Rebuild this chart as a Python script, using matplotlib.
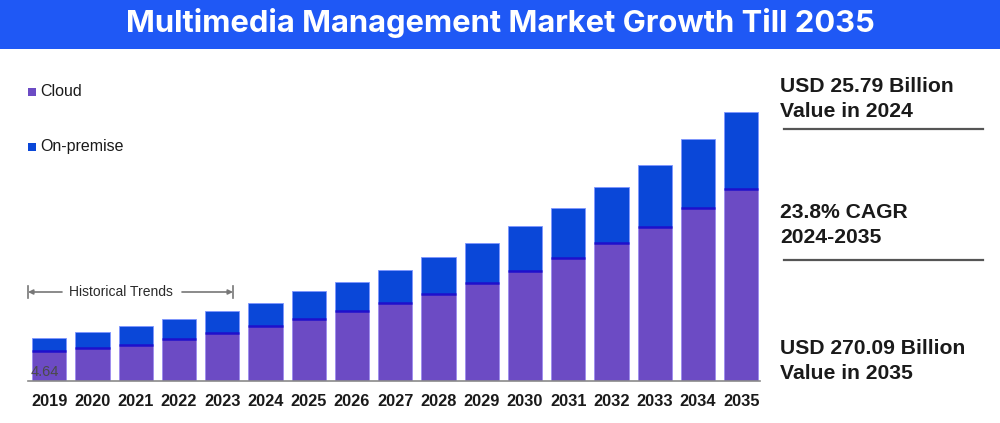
import matplotlib
matplotlib.use("Agg")
import matplotlib.pyplot as plt
from matplotlib.patches import Rectangle
import numpy as np

years = ["2019", "2020", "2021", "2022", "2023", "2024", "2025", "2026", "2027",
         "2028", "2029", "2030", "2031", "2032", "2033", "2034", "2035"]
cloud = [30, 33, 36, 42, 48, 55, 62, 70, 78, 87, 98, 110, 123, 138, 154, 173, 192]
total = [43, 49, 55, 62, 70, 78, 90, 99, 111, 124, 138, 155, 173, 194, 216, 242, 269]
on_premise = [t - c for t, c in zip(total, cloud)]
series_names = ["Cloud", "On-premise"]
first_label = "4.64"
title = "Multimedia Management Market Growth Till 2035"
side_texts = [("USD 25.79 Billion", "Value in 2024"),
              ("23.8% CAGR", "2024-2035"),
              ("USD 270.09 Billion", "Value in 2035")]
hist_label = "Historical Trends"

C_CLOUD = "#6c4bc4"
C_ONPREM = "#0a47d8"
C_SPLIT = "#1f10cc"
C_TEXT = "#1a1a1a"

W, H = 1000, 423
fig = plt.figure(figsize=(10, 4.23), dpi=100)
fig.patch.set_facecolor("white")

def fx(px):
    return px / W

def fy(py):
    return 1 - py / H

# title banner
fig.patches.append(Rectangle((0, fy(49)), 1, 49 / H, transform=fig.transFigure,
                             facecolor="#1f58f5", edgecolor="none", zorder=0))
fig.text(0.5, fy(23), title, ha="center", va="center", color="white",
         fontsize=22.3, fontweight="bold", family=["Inter", "DejaVu Sans"])

# axes
ax_top_px = 81
ax = fig.add_axes([fx(28), fy(381), fx(760 - 28), (381 - ax_top_px) / H])
x = np.arange(len(years))
bw = 0.79
ax.bar(x, cloud, width=bw, color=C_CLOUD, edgecolor="#9c8cf0", linewidth=0.6, zorder=2)
ax.bar(x, on_premise, bottom=cloud, width=bw, color=C_ONPREM, edgecolor="#7f95ff",
       linewidth=0.6, zorder=2)
ax.hlines(cloud, x - bw / 2, x + bw / 2, color=C_SPLIT, linewidth=1.8, zorder=3)

step = 43.25
c0 = 49.2
ax.set_xlim((28 - c0) / step, (760 - c0) / step)
ax.set_ylim(0, 381 - ax_top_px)
ax.set_xticks(x)
ax.set_xticklabels(years, fontsize=11.8, fontweight="bold", color=C_TEXT,
                   family=["Liberation Sans", "DejaVu Sans"])
ax.tick_params(axis="x", length=0, pad=9)
ax.set_yticks([])
for s in ["top", "right", "left"]:
    ax.spines[s].set_visible(False)
ax.spines["bottom"].set_color("#8a8a8a")
ax.spines["bottom"].set_linewidth(1.2)
ax.set_facecolor("none")

# first bar label
ax.text((31 - c0) / step, 9, first_label, ha="left", va="center", fontsize=10.5,
        color="#4a4a4a", family=["Liberation Sans", "DejaVu Sans"], zorder=4)

# historical trends annotation
yh = 381 - 292
xl = (28 - c0) / step
xr = (233 - c0) / step
ax.annotate("", xy=(xl, yh), xytext=((62 - c0) / step, yh),
            arrowprops=dict(arrowstyle="-|>", color="#777777", lw=1.2, mutation_scale=7,
                            shrinkA=0, shrinkB=0))
ax.annotate("", xy=(xr, yh), xytext=((182 - c0) / step, yh),
            arrowprops=dict(arrowstyle="-|>", color="#777777", lw=1.2, mutation_scale=7,
                            shrinkA=0, shrinkB=0))
ax.plot([xl, xl], [yh - 6, yh + 6], color="#777777", lw=1.2, clip_on=False)
ax.plot([xr, xr], [yh - 6, yh + 6], color="#777777", lw=1.2, clip_on=False)
ax.text((121 - c0) / step, yh, hist_label, ha="center", va="center", fontsize=10,
        color="#2a2a2a", family=["Liberation Sans", "DejaVu Sans"])

# legend
for (name, col, ypx) in zip(series_names, [C_CLOUD, C_ONPREM], [92, 147]):
    fig.patches.append(Rectangle((fx(28), fy(ypx + 4)), 8 / W, 8 / H,
                                 transform=fig.transFigure, facecolor=col,
                                 edgecolor="none"))
    fig.text(fx(40), fy(ypx), name, ha="left", va="center", fontsize=11.5,
             color=C_TEXT, family=["Liberation Sans", "DejaVu Sans"])

# side texts
side_y = [(86, 111), (212, 237), (349, 373)]
for (l1, l2), (y1, y2) in zip(side_texts, side_y):
    fig.text(fx(780), fy(y1), l1, ha="left", va="center", fontsize=15.2,
             fontweight="bold", color=C_TEXT, family=["Liberation Sans", "DejaVu Sans"])
    fig.text(fx(780), fy(y2), l2, ha="left", va="center", fontsize=15.2,
             fontweight="bold", color=C_TEXT, family=["Liberation Sans", "DejaVu Sans"])
for ypx in [129.5, 260]:
    fig.add_artist(plt.Line2D([fx(784), fx(983)], [fy(ypx), fy(ypx)],
                              transform=fig.transFigure, color="#555555", lw=1.6))

fig.savefig("out.png", dpi=100)
